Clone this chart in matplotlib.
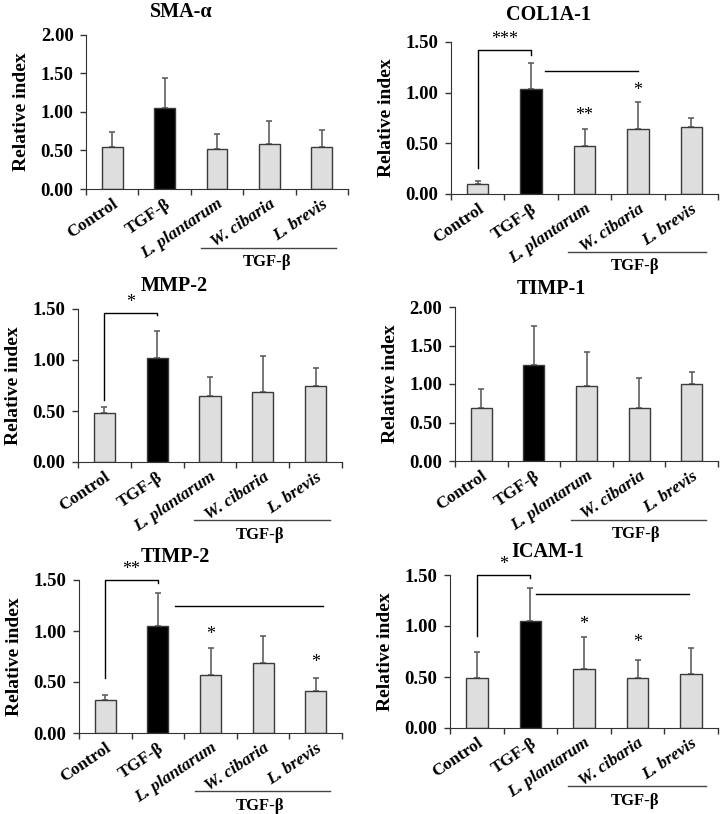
import matplotlib.pyplot as plt
import numpy as np

groups = ['Control', 'TGF-β', 'L. plantarum', 'W. cibaria', 'L. brevis']
italic = [False, False, True, True, True]

sma_mean = [0.54, 1.05, 0.52, 0.58, 0.55]
sma_sd = [0.20, 0.39, 0.19, 0.30, 0.22]
col_mean = [0.10, 1.04, 0.47, 0.64, 0.66]
col_sd = [0.025, 0.25, 0.17, 0.27, 0.09]
mmp_mean = [0.48, 1.02, 0.65, 0.69, 0.75]
mmp_sd = [0.055, 0.26, 0.18, 0.35, 0.17]
timp1_mean = [0.69, 1.25, 0.97, 0.69, 1.00]
timp1_sd = [0.24, 0.50, 0.45, 0.39, 0.16]
timp2_mean = [0.32, 1.05, 0.57, 0.69, 0.41]
timp2_sd = [0.055, 0.32, 0.26, 0.26, 0.125]
icam_mean = [0.49, 1.05, 0.58, 0.49, 0.525]
icam_sd = [0.26, 0.32, 0.31, 0.175, 0.255]

# bracket: (left start y, top y, right end y, stars)
col_bracket = (0.26, 1.42, 1.37, '***')
mmp_bracket = (0.61, 1.46, 1.44, '*')
timp2_bracket = (0.54, 1.50, 1.47, '**')
icam_bracket = (0.90, 1.50, 1.47, '*')
# horizontal line: (x start, x end, y)
col_line = (1.26, 3.0, 1.21)
timp2_line = (1.32, 4.14, 1.245)
icam_line = (1.11, 3.95, 1.31)
# stars over bars: (x, y, text)
col_stars = [(2, 0.77, '**'), (3, 1.02, '*')]
timp2_stars = [(2, 0.97, '*'), (4, 0.69, '*')]
icam_stars = [(2, 1.01, '*'), (3, 0.84, '*')]

plt.rcParams['font.family'] = ['Liberation Serif', 'DejaVu Serif']
plt.rcParams['font.weight'] = 'bold'

fig = plt.figure(figsize=(7.2, 8.14), dpi=100)
W, H = 720.0, 814.0

panels = [
    # title, mean, sd, ymax, box(left, right, top, bottom px), title y
    ('SMA-α', sma_mean, sma_sd, 2.0, (86, 348, 35, 189), 1.15, None, None, []),
    ('COL1A-1', col_mean, col_sd, 1.5, (451, 718, 42, 194), 1.18, col_bracket, col_line, col_stars),
    ('MMP-2', mmp_mean, mmp_sd, 1.5, (78, 342, 309, 462), 1.15, mmp_bracket, None, []),
    ('TIMP-1', timp1_mean, timp1_sd, 2.0, (455, 718, 307, 461), 1.12, None, None, []),
    ('TIMP-2', timp2_mean, timp2_sd, 1.5, (79, 342, 580, 733), 1.15, timp2_bracket, timp2_line, timp2_stars),
    ('ICAM-1', icam_mean, icam_sd, 1.5, (450, 718, 575, 728), 1.15, icam_bracket, icam_line, icam_stars),
]

x = np.arange(len(groups))
for title, mean, sd, ymax, box, ty, bracket, hline, stars in panels:
    l, r, t, b = box
    ax = fig.add_axes([l / W, 1 - b / H, (r - l) / W, (b - t) / H])
    colors = ['#dedede', 'black', '#dedede', '#dedede', '#dedede']
    ax.bar(x, mean, width=0.4, color=colors, edgecolor='#3a3a3a', linewidth=1, zorder=2)
    ax.errorbar(x, mean, yerr=[np.zeros(len(sd)), sd], fmt='none', ecolor='#606060',
                elinewidth=1.2, capsize=2, capthick=1.2, zorder=1)
    ax.set_xlim(-0.5, 4.5)
    ax.set_ylim(0, ymax)
    ax.set_yticks(np.arange(0, ymax + 0.01, 0.5))
    ax.set_yticklabels(['%.2f' % v for v in np.arange(0, ymax + 0.01, 0.5)], fontsize=13.5, fontweight='bold')
    ax.set_xticks(x)
    ax.set_xticks(np.arange(-0.5, 4.6, 1), minor=True)
    ax.tick_params(axis='x', which='major', length=0, pad=5)
    ax.tick_params(axis='x', which='minor', length=4, width=1, color='#333333')
    ax.tick_params(axis='y', length=4, width=1, color='#333333', pad=5)
    ax.set_xticklabels(groups, rotation=34, ha='right', rotation_mode='anchor', fontsize=12.5, fontweight='bold')
    for lab, it in zip(ax.get_xticklabels(), italic):
        if it:
            lab.set_style('italic')
    ax.spines['top'].set_visible(False)
    ax.spines['right'].set_visible(False)
    ax.spines['left'].set_color('#333333')
    ax.spines['bottom'].set_color('#333333')
    ax.set_ylabel('Relative index', fontsize=14, fontweight='bold', labelpad=8)
    ax.text(0.365, ty, title, transform=ax.transAxes, ha='center', va='center', fontsize=14.5, fontweight='bold')

    # TGF-β group line under treated samples
    ax.plot([1.7, 4.27], [-0.38 * ymax, -0.38 * ymax], color='#444444', lw=1, clip_on=False)
    ax.text(2.95, -0.475 * ymax, 'TGF-β', ha='center', va='center', fontsize=12, fontweight='bold')

    if bracket is not None:
        y0, ytop, y1, s = bracket
        ax.plot([0, 0, 1, 1], [y0, ytop, ytop, y1], color='black', lw=1, clip_on=False)
        ax.text(0.5, ytop + 0.02, s, ha='center', va='bottom', fontsize=13, fontweight='normal')
    if hline is not None:
        ax.plot([hline[0], hline[1]], [hline[2], hline[2]], color='black', lw=1, clip_on=False)
    for sx, sy, s in stars:
        ax.text(sx, sy, s, ha='center', va='center', fontsize=13, fontweight='normal')

fig.savefig('out.png', dpi=100)
